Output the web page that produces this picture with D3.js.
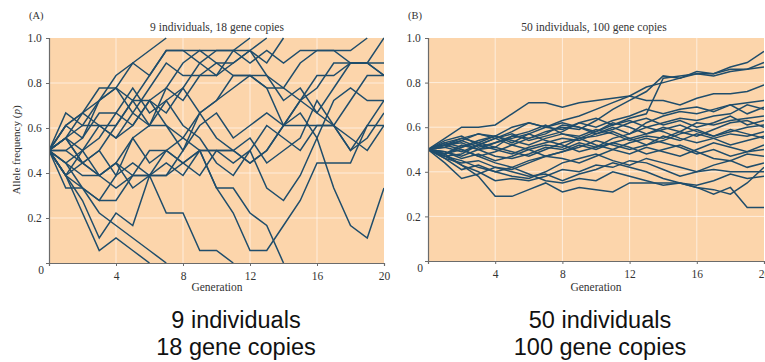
<!DOCTYPE html>
<html>
<head>
<meta charset="utf-8">
<script src="https://cdn.jsdelivr.net/npm/d3@7"></script>
<style>
  html, body { margin: 0; padding: 0; background: #ffffff; }
  svg { display: block; }
</style>
</head>
<body>
<svg id="chart" width="765" height="362"></svg>
<script>
// Genetic drift simulations: allele counts per generation for replicate populations.
const generationTicks = [4, 8, 12, 16, 20];
const frequencyTicks = [0.2, 0.4, 0.6, 0.8, 1.0];

// Panel A: 9 diploid individuals -> 18 gene copies (runs stop at loss or fixation)
const copiesA = 18;
const runsA = [
  [9,7,4,1,2,1,0],
  [9,7,5,2,4,3,7,4,4,1,1,0],
  [9,8,6,4,3,2,1,0],
  [9,10,8,7,8,7,9,9,10,9,6,4,1,1,3,5,8,8,8,11,13],
  [9,8,7,7,8,6,7,9,8,9,6,6,4,3,0],
  [9,7,6,5,7,8,7,8,7,9,9,8,9,6,5,7,10,6,3,2,6],
  [9,10,12,13,15,16,17,18],
  [9,11,12,14,14,16,15,17,17,16,17,17,18],
  [9,11,10,13,14,13,15,17,17,17,17,17,17,16,18],
  [9,10,11,11,11,13,13,12,14,16,15,16,17,18],
  [9,12,11,13,14,12,14,16,15,15,15,17,16,17,16,17,17,17,16,16,15],
  [9,11,12,11,10,11,13,11,9,12,13,15,15,15,13,14,12,11,13,15,15],
  [9,9,10,12,12,11,13,14,16,17,16,16,17,15,14,16,17,17,17,18],
  [9,10,8,9,11,13,11,14,13,15,16,15,15,14,11,13,14,16,16,16,18],
  [9,7,8,7,6,7,7,7,9,11,12,10,11,12,11,11,11,11,9,10,12],
  [9,7,9,7,8,10,11,11,10,12,10,9,10,8,9,10,13,11,10,9,11],
  [9,9,8,9,7,10,8,9,8,9,9,9,8,9,11,13,15,15,16,16,15],
  [9,10,9,10,12,14,12,13,14,12,13,14,15,14,14,13,12,14,16,16,16],
  [9,8,9,11,10,12,11,13,11,10,8,7,9,11,10,9,11,11,9,11,11],
  [9,6,6,5,5,7,7,7,8,7,9,9,8,9,11,12,10,13,14,13,13]
];

// Panel B: 50 diploid individuals -> 100 gene copies
const copiesB = 100;
const runsB = [
  [50,55,60,60,61,66,71,71,69,71,72,73,74,78,80,82,84,84,87,89,94],
  [50,52,54,51,53,56,55,58,60,59,63,68,72,76,83,82,85,84,86,86,89],
  [50,48,51,54,56,53,57,60,62,60,58,61,64,66,82,83,84,83,85,86,87],
  [50,53,55,57,56,60,62,60,63,65,68,71,74,72,72,70,73,75,75,76,79],
  [50,51,49,52,55,57,54,56,58,62,60,63,65,68,66,68,69,67,70,71,72],
  [50,47,48,52,50,48,51,53,55,54,57,60,57,62,65,67,66,68,70,66,69],
  [50,54,56,52,55,58,62,60,59,62,64,61,63,60,62,64,63,65,66,70,68],
  [50,49,46,48,45,47,50,52,51,55,56,58,55,57,60,58,62,61,63,64,65],
  [50,52,50,47,49,52,55,57,61,60,57,59,62,64,61,63,60,62,65,61,63],
  [50,46,44,45,42,41,44,47,49,52,50,53,55,52,54,57,59,56,58,60,61],
  [50,53,51,53,56,54,52,55,57,56,59,57,54,56,55,58,56,59,62,63,60],
  [50,48,52,50,47,46,48,51,50,53,51,55,57,60,58,55,53,55,57,56,58],
  [50,51,54,57,55,52,50,47,49,51,54,52,50,52,56,54,57,55,52,54,56],
  [50,47,45,42,40,42,45,47,46,44,47,50,48,51,49,47,50,53,51,49,52],
  [50,52,53,50,51,49,47,50,53,55,52,50,53,55,53,51,48,50,47,49,50],
  [50,49,47,50,53,55,57,54,52,49,51,53,51,48,50,52,49,46,45,48,47],
  [50,46,41,43,40,38,37,40,44,46,48,45,43,46,44,42,40,43,45,42,44],
  [50,48,43,40,36,37,36,38,41,40,43,42,45,44,41,38,40,41,40,40,40],
  [50,44,37,39,42,40,38,39,36,39,41,44,42,40,37,35,34,36,39,37,38],
  [50,47,43,38,29,29,32,35,31,33,32,31,35,35,35,35,33,30,33,24,24],
  [50,52,55,53,51,56,58,61,57,55,58,62,60,57,59,61,58,56,59,57,55],
  [50,48,50,47,44,42,39,36,35,37,36,40,38,36,34,35,33,32,30,35,42]
];

const svg = d3.select("#chart");
const serif = "'Liberation Serif', 'Times New Roman', serif";
const plotFill = "#fcd5ab";
const lineColor = "#1f4d6b";

function drawPanel(cfg) {
  const x = d3.scaleLinear().domain([0, 20]).range([cfg.left, cfg.right]);
  const y = d3.scaleLinear().domain([0, 1]).range([cfg.bottom, cfg.top]);
  const g = svg.append("g");

  g.append("rect")
    .attr("x", cfg.left).attr("y", cfg.top)
    .attr("width", cfg.right - cfg.left).attr("height", cfg.bottom - cfg.top)
    .attr("fill", plotFill);

  // faint white grid
  g.append("g").selectAll("line.v").data(generationTicks.slice(0, 4)).join("line")
    .attr("x1", d => x(d)).attr("x2", d => x(d))
    .attr("y1", cfg.top).attr("y2", cfg.bottom)
    .attr("stroke", "#ffffff").attr("stroke-opacity", 0.6).attr("stroke-width", 1);
  g.append("g").selectAll("line.h").data(frequencyTicks.slice(0, 4)).join("line")
    .attr("x1", cfg.left).attr("x2", cfg.right)
    .attr("y1", d => y(d)).attr("y2", d => y(d))
    .attr("stroke", "#ffffff").attr("stroke-opacity", 0.6).attr("stroke-width", 1);

  const clipId = "clip-" + cfg.id;
  svg.append("clipPath").attr("id", clipId).append("rect")
    .attr("x", cfg.left).attr("y", cfg.top - 1)
    .attr("width", cfg.right - cfg.left).attr("height", cfg.bottom - cfg.top + 1);

  const line = d3.line()
    .x((d, i) => x(i))
    .y(d => y(d / cfg.copies));

  g.append("g").attr("clip-path", `url(#${clipId})`)
    .selectAll("path").data(cfg.runs).join("path")
    .attr("d", line)
    .attr("fill", "none")
    .attr("stroke", lineColor)
    .attr("stroke-width", 1.5)
    .attr("stroke-linejoin", "miter");

  // axes
  const xAxis = d3.axisBottom(x).tickValues(generationTicks).tickSize(3).tickFormat(d3.format("d"));
  const yAxis = d3.axisLeft(y).tickValues(frequencyTicks).tickSize(3).tickFormat(d3.format(".1f"));

  const gx = g.append("g").attr("transform", `translate(0,${cfg.bottom})`).call(xAxis);
  const gy = g.append("g").attr("transform", `translate(${cfg.left},0)`).call(yAxis);
  [gx, gy].forEach(a => {
    a.select(".domain").attr("stroke", "#6b6b6b").attr("stroke-width", 1.2);
    a.selectAll(".tick line").attr("stroke", "#6b6b6b");
    a.selectAll(".tick text").attr("fill", "#333").attr("font-family", serif).attr("font-size", 11.5);
  });
  gx.selectAll(".tick text").attr("dy", "0.95em");
  gy.selectAll(".tick text").attr("dx", "-0.1em");

  // shared zero at the corner
  g.append("text").attr("x", cfg.left - 8).attr("y", cfg.bottom + 11)
    .attr("text-anchor", "middle").attr("font-family", serif).attr("font-size", 11.5)
    .attr("fill", "#333").text("0");

  g.append("text").attr("x", cfg.labelX).attr("y", 19)
    .attr("font-family", serif).attr("font-size", 10.5).attr("fill", "#333").text(cfg.letter);

  g.append("text").attr("x", cfg.titleX).attr("y", 31).attr("text-anchor", "middle")
    .attr("font-family", serif).attr("font-size", 11.5).attr("fill", "#333").text(cfg.title);

  g.append("text").attr("x", cfg.xLabelX).attr("y", 291).attr("text-anchor", "middle")
    .attr("font-family", serif).attr("font-size", 11.5).attr("fill", "#333").text("Generation");

  cfg.caption.forEach((t, i) => {
    svg.append("text").attr("x", cfg.captionX).attr("y", 328 + i * 27)
      .attr("text-anchor", "middle")
      .attr("font-family", "'Liberation Sans', Arial, sans-serif")
      .attr("font-size", 23.5).attr("fill", "#111").text(t);
  });
}

drawPanel({
  id: "a", left: 49, right: 384, top: 38, bottom: 263,
  copies: copiesA, runs: runsA,
  letter: "(A)", labelX: 29, title: "9 individuals, 18 gene copies", titleX: 217,
  xLabelX: 217, captionX: 236, caption: ["9 individuals", "18 gene copies"]
});

drawPanel({
  id: "b", left: 428, right: 764, top: 38, bottom: 261,
  copies: copiesB, runs: runsB,
  letter: "(B)", labelX: 408, title: "50 individuals, 100 gene copies", titleX: 594,
  xLabelX: 596, captionX: 600, caption: ["50 individuals", "100 gene copies"]
});

// y-axis title for panel A
const yTitle = svg.append("text")
  .attr("transform", "translate(20,150) rotate(-90)")
  .attr("text-anchor", "middle")
  .attr("font-family", serif).attr("font-size", 11).attr("fill", "#333");
yTitle.append("tspan").text("Allele frequency (");
yTitle.append("tspan").attr("font-style", "italic").text("p");
yTitle.append("tspan").text(")");
</script>
</body>
</html>
